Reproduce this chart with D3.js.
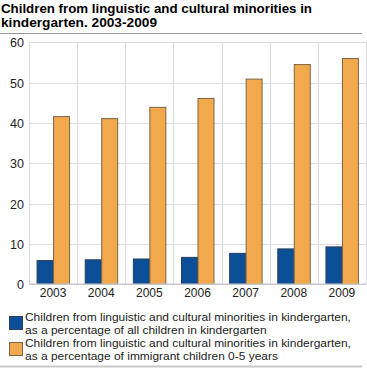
<!DOCTYPE html>
<html><head><meta charset="utf-8">
<script src="https://cdn.jsdelivr.net/npm/d3@7"></script>
<style>body{margin:0;background:#fff}svg{display:block}</style>
</head><body>
<script>
const years = ["2003","2004","2005","2006","2007","2008","2009"];
const shareAll = [6.0, 6.2, 6.4, 6.8, 7.8, 8.9, 9.4];
const shareImmigrant = [41.7, 41.2, 44.0, 46.2, 51.0, 54.6, 56.1];
const yTicks = [0,10,20,30,40,50,60];
const seriesNames = [
  ["Children from linguistic and cultural minorities in kindergarten,","as a percentage of all children in kindergarten"],
  ["Children from linguistic and cultural minorities in kindergarten,","as a percentage of immigrant children 0-5 years"]
];
const colors = ["#0b4f98","#f2a94c"];
const strokes = ["#2a3d5c","#7a6448"];
const titleLines = ["Children from linguistic and cultural minorities in","kindergarten. 2003-2009"];

const W=367,H=369;
const svg=d3.select("body").append("svg").attr("width",W).attr("height",H);
const m={l:29,r:366,t:42.3,b:284.3};
const x=d3.scaleBand().domain(years).range([m.l,m.r]);
const xs=d3.scaleBand().domain([0,1]).range([0,x.bandwidth()]).paddingOuter(0.46).paddingInner(0);
const y=d3.scaleLinear().domain([0,60]).range([m.b,m.t]);

// title
const tt=svg.append("g").attr("font-family","'Liberation Sans', Arial, sans-serif").attr("font-weight","bold").attr("font-size","12px").attr("fill","#000");
tt.append("text").attr("x",1).attr("y",12.5).text(titleLines[0]).attr("textLength",311).attr("lengthAdjust","spacingAndGlyphs");
tt.append("text").attr("x",1).attr("y",26.5).text(titleLines[1]).attr("textLength",156).attr("lengthAdjust","spacingAndGlyphs");
svg.append("line").attr("x1",0).attr("x2",362).attr("y1",33.5).attr("y2",33.5).attr("stroke","#999").attr("stroke-width",1);

// grid
const g=svg.append("g");
g.selectAll("line.h").data(yTicks).join("line").attr("class","h")
  .attr("x1",m.l).attr("x2",m.r).attr("y1",d=>Math.round(y(d))+0.5).attr("y2",d=>Math.round(y(d))+0.5)
  .attr("stroke","#dcdce2").attr("stroke-width",1.2);
const vb=years.map(d=>x(d)).concat([m.r]);
g.selectAll("line.v").data(vb).join("line").attr("class","v")
  .attr("x1",d=>Math.round(d)+0.5).attr("x2",d=>Math.round(d)+0.5).attr("y1",m.t).attr("y2",m.b)
  .attr("stroke","#dcdce2").attr("stroke-width",1.2);

// bars
const series=[shareAll,shareImmigrant];
series.forEach((vals,si)=>{
  svg.append("g").selectAll("rect").data(vals).join("rect")
    .attr("x",(d,i)=>x(years[i])+xs(si)+0.5)
    .attr("width",xs.bandwidth()-0.5)
    .attr("y",d=>y(d)+0.5)
    .attr("height",d=>y(0)-y(d)-0.5)
    .attr("fill",colors[si]).attr("stroke",strokes[si]).attr("stroke-width",1);
});
// baseline
svg.append("line").attr("x1",m.l).attr("x2",m.r).attr("y1",m.b).attr("y2",m.b).attr("stroke","#c8c8d0").attr("stroke-width",1.5);

// axes labels
const yAxis=d3.axisLeft(y).tickValues(yTicks).tickSize(0).tickPadding(0);
const ya=svg.append("g").attr("transform",`translate(${m.l-5},0)`).call(yAxis);
ya.select(".domain").remove();
ya.selectAll("text").attr("font-family","'Liberation Sans', Arial, sans-serif").attr("font-size","12.5px").attr("fill","#222").attr("dy","0.36em");
const xAxis=d3.axisBottom(x).tickSize(0).tickPadding(0);
const xa=svg.append("g").attr("transform",`translate(0,${m.b})`).call(xAxis);
xa.select(".domain").remove();
xa.selectAll("text").attr("font-family","'Liberation Sans', Arial, sans-serif").attr("font-size","12px").attr("fill","#222").attr("y",13).attr("dy","0");

// legend
const lg=svg.append("g").attr("font-family","'Liberation Sans', Arial, sans-serif").attr("font-size","11px").attr("fill","#222");
const ly=[316,342];
seriesNames.forEach((lines,i)=>{
  lg.append("rect").attr("x",9.5).attr("y",ly[i]+0.5).attr("width",13).attr("height",13)
    .attr("fill",colors[i]).attr("stroke",strokes[i]).attr("stroke-width",1);
  lines.forEach((s,j)=>{
    const t=lg.append("text").attr("x",25).attr("y",ly[i]+5+j*12.7).text(s);
    const len=t.node().getComputedTextLength();
    t.attr("textLength",len*12/11*0.995).attr("lengthAdjust","spacingAndGlyphs");
  });
});
svg.append("line").attr("x1",0).attr("x2",362).attr("y1",366.5).attr("y2",366.5).attr("stroke","#c8c8c8").attr("stroke-width",2);
</script>
</body></html>
